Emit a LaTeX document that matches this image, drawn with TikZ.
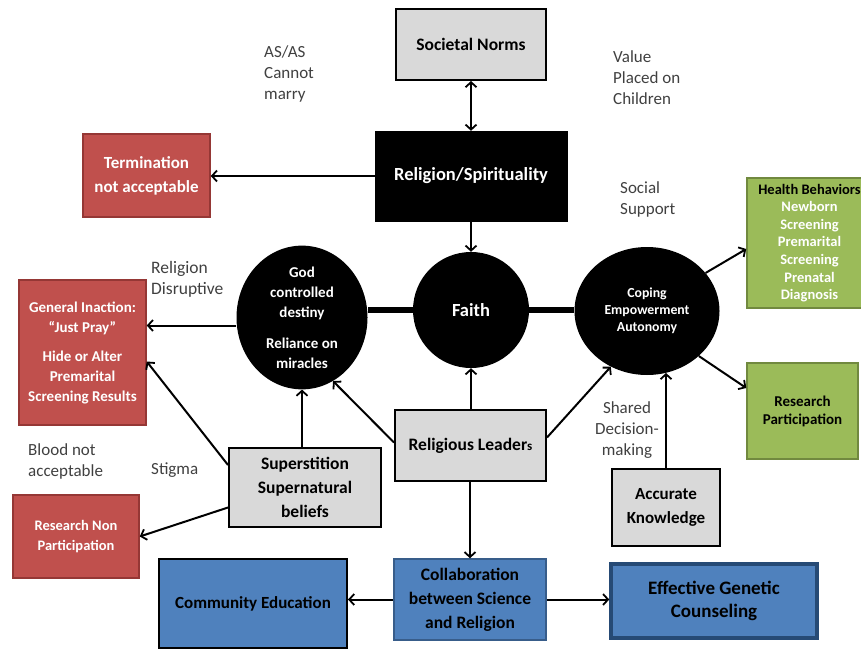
\documentclass[tikz,border=0pt]{standalone}
\usepackage{fontspec}
\setmainfont{Carlito}
\usetikzlibrary{arrows.meta,shapes.geometric}
\definecolor{boxgray}{HTML}{D9D9D9}
\definecolor{boxred}{HTML}{C0504D}
\definecolor{redline}{HTML}{953735}
\definecolor{boxgreen}{HTML}{9BBB59}
\definecolor{greenline}{HTML}{71893F}
\definecolor{boxblue}{HTML}{4F81BD}
\definecolor{blueline}{HTML}{385D8A}
\definecolor{darkblueline}{HTML}{264A75}
\definecolor{labelgray}{HTML}{404040}
\begin{document}
\begin{tikzpicture}[x=1pt,y=-1pt,
  base/.style={rectangle,inner sep=0pt,align=center,font=\bfseries},
  graybox/.style={base,fill=boxgray,draw=black,line width=2pt},
  blackbox/.style={base,fill=black,draw=black,text=white},
  redbox/.style={base,fill=boxred,draw=redline,line width=1.5pt,text=white},
  greenbox/.style={base,fill=boxgreen,draw=greenline,line width=1.5pt},
  bluebox/.style={base,fill=boxblue,draw=blueline,line width=1.5pt},
  blob/.style={ellipse,inner sep=0pt,fill=black,text=white,align=center,font=\bfseries},
  lbl/.style={inner sep=0pt,align=left,text=labelgray,font=\fontsize{17}{21}\selectfont},
  arr/.style={line width=2pt,-{Straight Barb[length=5pt,width=11pt,line width=1.8pt]}},
  dbl/.style={line width=2pt,{Straight Barb[length=5pt,width=11pt,line width=1.8pt]}-{Straight Barb[length=5pt,width=11pt,line width=1.8pt]}},
  thick link/.style={line width=6pt}]
\useasboundingbox (0,0) rectangle (861,650);

% boxes
\node[graybox,minimum width=150pt,minimum height=71pt,font=\bfseries\fontsize{17.5}{20}\selectfont] (norms) at (471,44.5) {Societal Norms};
\node[blackbox,minimum width=192pt,minimum height=90pt,font=\bfseries\fontsize{18.5}{20}\selectfont] (relig) at (471,176) {Religion/Spirituality};
\node[redbox,minimum width=127pt,minimum height=83pt,font=\bfseries\fontsize{17}{24}\selectfont] (term) at (146.5,175.5) {Termination\\not acceptable};
\node[redbox,minimum width=127pt,minimum height=145pt,font=\bfseries\fontsize{15}{20}\selectfont] (inact) at (82.5,352.5) {General Inaction:\\“Just Pray”\\[9pt]Hide or Alter\\Premarital\\Screening Results};
\node[redbox,minimum width=126pt,minimum height=83pt,font=\bfseries\fontsize{14.5}{20}\selectfont] (rnon) at (76,536.5) {Research Non\\Participation};

\node[blob,minimum width=131pt,minimum height=140pt,font=\bfseries\fontsize{15}{20}\selectfont] (god) at (302,317.5) {God\\controlled\\destiny\\[11pt]Reliance on\\miracles};
\node[blob,circle,minimum size=116pt,font=\bfseries\fontsize{18.5}{20}\selectfont] (faith) at (471,310) {Faith};
\node[blob,minimum width=145pt,minimum height=128pt,font=\bfseries\fontsize{13.8}{17}\selectfont] (coping) at (647,311) {Coping\\Empowerment\\Autonomy};

\node[graybox,minimum width=152pt,minimum height=79pt,font=\bfseries\fontsize{17.5}{24}\selectfont] (super) at (305,487.5) {Superstition\\Supernatural\\beliefs};
\node[graybox,minimum width=151pt,minimum height=71pt,font=\bfseries\fontsize{17.5}{20}\selectfont] (leaders) at (470.5,445.5) {Religious Leader{\fontsize{13}{14}\selectfont s}};
\node[graybox,minimum width=108pt,minimum height=77pt,font=\bfseries\fontsize{17}{24}\selectfont] (know) at (666,507.5) {Accurate\\Knowledge};

\node[greenbox,minimum width=125pt,minimum height=130pt,font=\bfseries\fontsize{14.5}{17.6}\selectfont] (health) at (809.5,243) {Health Behaviors\\\textcolor{white}{Newborn}\\\textcolor{white}{Screening}\\\textcolor{white}{Premarital}\\\textcolor{white}{Screening}\\\textcolor{white}{Prenatal}\\\textcolor{white}{Diagnosis}};
\node[greenbox,minimum width=111pt,minimum height=96pt,font=\bfseries\fontsize{15}{18}\selectfont] (rpart) at (802.5,411) {Research\\Participation};

\node[bluebox,draw=black,line width=2pt,minimum width=188pt,minimum height=89pt,font=\bfseries\fontsize{17}{20}\selectfont] (comm) at (253,603.5) {Community Education};
\node[bluebox,minimum width=152pt,minimum height=81pt,font=\bfseries\fontsize{17.5}{24}\selectfont] (collab) at (470,599.5) {Collaboration\\between Science\\and Religion};
\node[bluebox,draw=darkblueline,line width=3.5pt,minimum width=206pt,minimum height=74pt,font=\bfseries\fontsize{19}{23}\selectfont] (eff) at (714,601) {Effective Genetic\\Counseling};

% labels
\node[lbl,anchor=north west] (l1) at (264,45) {AS/AS\\Cannot\\marry};
\node[lbl,anchor=north west] (l2) at (613,50) {Value\\Placed on\\Children};
\node[lbl,anchor=north west] (l3) at (620,181) {Social\\Support};
\node[lbl,anchor=north west,font=\fontsize{17.5}{21}\selectfont] (l4) at (151,261) {Religion\\Disruptive};
\node[lbl,anchor=north west] (l5) at (28,443) {Blood not\\acceptable};
\node[lbl,anchor=north west] (l6) at (151,463) {Stigma};
\node[lbl,anchor=north,align=center] (l7) at (627,401) {Shared\\Decision-\\making};

% thick links
\draw[thick link] (faith.west) -- (faith.west -| god.east);
\draw[thick link] (faith.east) -- (faith.east -| coping.west);

% connectors
\draw[dbl] (norms.south) -- (relig.north);
\draw[arr] (relig.west) -- (relig.west -| term.east);
\draw[arr] (relig.south) -- (faith.north);
\draw[arr] ([yshift=-8pt]god.west) -- ([yshift=-8pt]god.west -| inact.east);
\draw[arr] ([yshift=-18pt]super.north west) -- ([yshift=-9pt]inact.east);
\draw[arr] (super.north -| god.south) -- (god.south);
\draw[arr] ([yshift=-20pt]super.west) -- (rnon.east);
\draw[arr] ([yshift=3pt]leaders.west) -- (god.-64);
\draw[arr] (leaders.north -| faith.south) -- (faith.south);
\draw[arr] ([yshift=8pt]leaders.east) -- (coping.-123);
\draw[arr] (leaders.south -| collab.north) -- (collab.north);
\draw[arr] (know.north) -- (know.north |- coping.-73);
\draw[arr] (coping.33) -- ([yshift=-6pt]health.west);
\draw[arr] (coping.-41) -- ([yshift=23pt]rpart.west);
\draw[arr] (collab.west) -- (collab.west -| comm.east);
\draw[arr] (collab.east) -- (collab.east -| eff.west);
\end{tikzpicture}
\end{document}
